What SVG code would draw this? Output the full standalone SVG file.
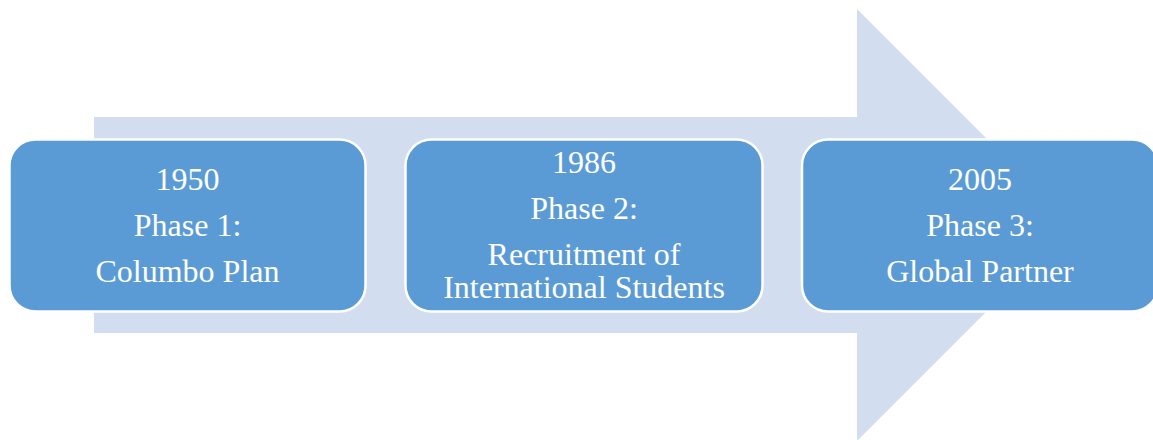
<svg xmlns="http://www.w3.org/2000/svg" width="1153" height="440" viewBox="0 0 1153 440">
<style>
.box{fill:#5B9BD5;stroke:#FFFFFF;stroke-width:2.5}
.t{font-family:"Liberation Serif","Times New Roman",serif;font-size:32px;fill:#FFFFFF;text-anchor:middle}
</style>
<rect width="1153" height="440" fill="#FFFFFF"/>
<g id="connectors">
<path d="M94,117 H857 V9 L1073,225 L857,441 V333 H94 Z" fill="#D2DEEF"/>
</g>
<g id="node1">
<rect class="box" x="9.5" y="139.5" width="356" height="172" rx="26"/>
<text class="t" x="187.5" y="190">1950</text>
<text class="t" x="187.5" y="236">Phase 1:</text>
<text class="t" x="187.5" y="282">Columbo Plan</text>
</g>
<g id="node2">
<rect class="box" x="405.5" y="139.5" width="357" height="172" rx="26"/>
<text class="t" x="584" y="173">1986</text>
<text class="t" x="584" y="219">Phase 2:</text>
<text class="t" x="584" y="265">Recruitment of</text>
<text class="t" x="584" y="298">International Students</text>
</g>
<g id="node3">
<rect class="box" x="802" y="139.5" width="356" height="172" rx="26"/>
<text class="t" x="980" y="190">2005</text>
<text class="t" x="980" y="236">Phase 3:</text>
<text class="t" x="980" y="282">Global Partner</text>
</g>
</svg>
